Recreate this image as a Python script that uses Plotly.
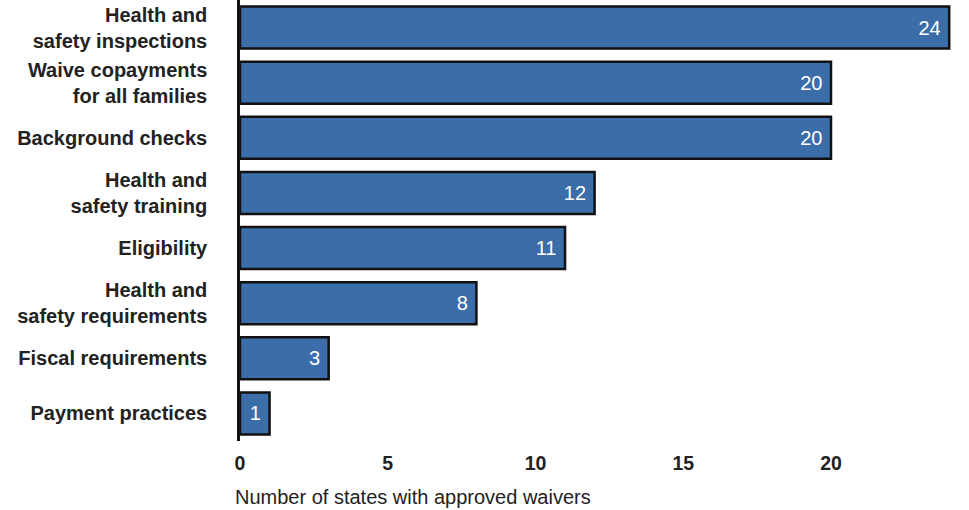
import plotly.graph_objects as go

categories = [
    "Health and<br>safety inspections",
    "Waive copayments<br>for all families",
    "Background checks",
    "Health and<br>safety training",
    "Eligibility",
    "Health and<br>safety requirements",
    "Fiscal requirements",
    "Payment practices",
]
values = [24, 20, 20, 12, 11, 8, 3, 1]
tick_vals = [0, 5, 10, 15, 20, 25]

fig = go.Figure(go.Bar(
    x=values,
    y=categories,
    orientation="h",
    marker=dict(color="#3b6ea8", line=dict(color="#111111", width=2.5)),
    texttemplate="%{x}\u00a0",
    textposition="inside",
    insidetextanchor="end",
    textfont=dict(color="white", size=20, family="Liberation Sans"),
    width=0.76,
))

fig.update_layout(
    width=969, height=510,
    margin=dict(l=240, r=0, t=0, b=69, autoexpand=False),
    plot_bgcolor="white", paper_bgcolor="white",
    showlegend=False,
    font=dict(family="Liberation Sans", color="#222222"),
    xaxis=dict(
        range=[0, 24.67],
        tickvals=tick_vals,
        showgrid=False, zeroline=False, showline=False,
        tickfont=dict(size=19.5, weight="bold", color="#222222"),
        ticks="", ticklabelstandoff=8,
        automargin=False,
    ),
    yaxis=dict(
        autorange="reversed",
        showgrid=False, zeroline=False,
        showline=True, linecolor="#111111", linewidth=2.5,
        tickfont=dict(size=20, weight="bold", color="#222222"),
        ticks="", ticklabelstandoff=26,
        automargin=False,
    ),
    annotations=[dict(
        text="Number of states with approved waivers",
        xref="paper", yref="paper",
        x=-0.0096, y=-0.127, xanchor="left", yanchor="middle",
        showarrow=False, font=dict(size=20, color="#222222"),
    )],
)

fig.write_html(
    "out.html",
    config={"displayModeBar": False},
    post_script="document.body.style.margin='0';",
)
